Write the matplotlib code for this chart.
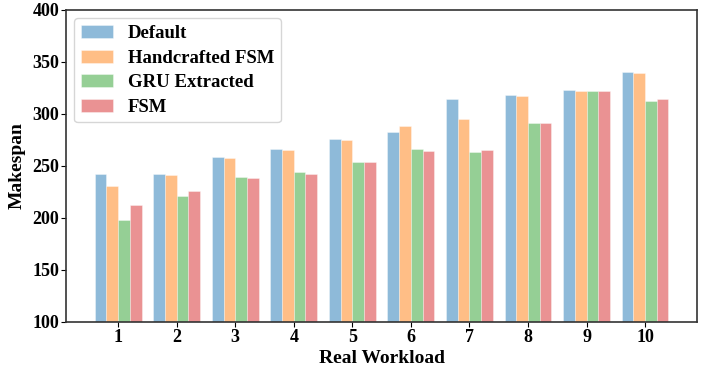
import numpy as np
import matplotlib
matplotlib.use("Agg")
import matplotlib.pyplot as plt

plt.rcParams['font.family'] = ['Liberation Serif', 'DejaVu Serif']
plt.rcParams['font.weight'] = 'bold'

workloads = [1, 2, 3, 4, 5, 6, 7, 8, 9, 10]
series_names = ["Default", "Handcrafted FSM", "GRU Extracted", "FSM"]
default = [242, 242, 259, 266, 276, 283, 314, 318, 323, 340]
handcrafted = [231, 241, 258, 265, 275, 288, 295, 317, 322, 339]
gru = [198, 221, 239, 244, 254, 266, 263, 291, 322, 312]
fsm = [212, 226, 238, 242, 254, 264, 265, 291, 322, 314]
colors = ["tab:blue", "tab:orange", "tab:green", "tab:red"]

fig = plt.figure(figsize=(7.06, 3.68), dpi=100)
ax = fig.add_axes([0.0935, 0.125, 0.894, 0.848])

x = np.array(workloads)
w = 0.2
for i, (vals, name, c) in enumerate(zip([default, handcrafted, gru, fsm], series_names, colors)):
    ax.bar(x + (i - 1.5) * w, vals, w, color=c, alpha=0.5, label=name,
           edgecolor='white', linewidth=0.5)

ax.set_ylim(100, 400)
ax.set_xlim(0.11, 10.89)
ax.set_xticks(x)
ax.set_xticklabels([str(v) for v in workloads], fontsize=13, fontweight='bold')
ax.set_yticks(range(100, 401, 50))
ax.set_yticklabels([str(v) for v in range(100, 401, 50)], fontsize=13, fontweight='bold')
ax.tick_params(length=3.5, pad=1.5)
ax.set_xlabel("Real Workload", fontsize=14, fontweight='bold', labelpad=3)
ax.set_ylabel("Makespan", fontsize=14, fontweight='bold', labelpad=5)
for s in ax.spines.values():
    s.set_color('#333333')
    s.set_linewidth(1.2)

ax.legend(loc='upper left', prop={'size': 13.5, 'weight': 'bold'}, handlelength=1.7,
          handletextpad=0.8, labelspacing=0.4, borderpad=0.35, borderaxespad=0.45)

fig.savefig("out.png", dpi=100)
